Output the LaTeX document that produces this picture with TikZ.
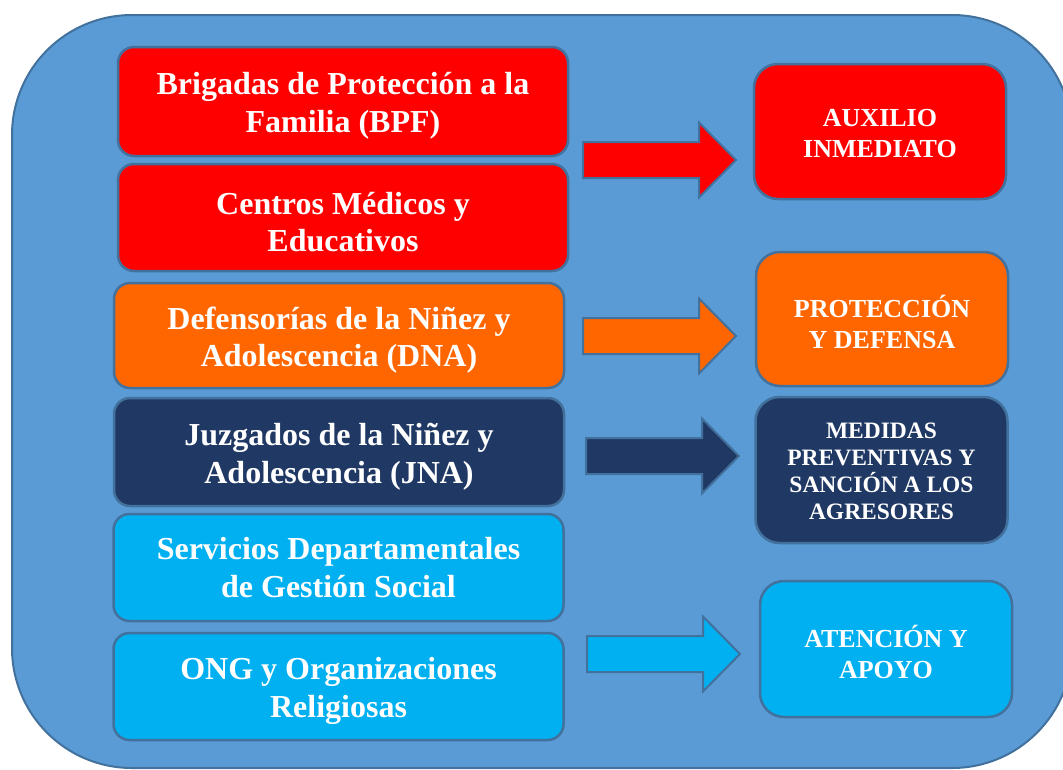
\documentclass[tikz,border=0pt]{standalone}
\usepackage{fontspec}
\setmainfont{Liberation Serif}
\definecolor{bgblue}{HTML}{5B9BD5}
\definecolor{edgec}{HTML}{41719C}
\definecolor{cred}{HTML}{FF0000}
\definecolor{corange}{HTML}{FF6600}
\definecolor{cnavy}{HTML}{203864}
\definecolor{ccyan}{HTML}{00B0F0}
\tikzset{
  lbox/.style={draw=edgec, line width=2.5pt, rounded corners=16pt,
    minimum width=450pt, inner sep=0pt},
  rbox/.style={draw=edgec, line width=2.5pt, rounded corners=24pt,
    minimum width=252pt, inner sep=0pt},
  ltxt/.style={text=white, align=center, inner sep=0pt, yshift=-4.5pt,
    font=\bfseries\fontsize{32}{37.5}\selectfont},
  rtxt/.style={text=white, align=center, inner sep=0pt, yshift=-2.5pt,
    font=\bfseries\fontsize{26}{31}\selectfont},
  stxt/.style={text=white, align=center, inner sep=0pt, yshift=-1pt,
    font=\bfseries\fontsize{23.5}{27}\selectfont},
  barrow/.style={draw=edgec, line width=2pt, line join=miter},
}
\begin{document}
\begin{tikzpicture}[x=1pt,y=-1pt]
\useasboundingbox (0,0) rectangle (1063,769);
% background panel
\filldraw[fill=bgblue, draw=edgec, line width=2pt, rounded corners=120pt]
  (12,15) rectangle (1072,768);

% left boxes
\node[lbox, fill=cred, minimum height=109pt,
  label={[ltxt]center:{Brigadas de Protección a la\\Familia (BPF)}}]
  (l1) at (343,101.5) {};
\node[lbox, fill=cred, minimum height=107pt,
  label={[ltxt]center:{Centros Médicos y\\Educativos}}]
  (l2) at (343,217.5) {};
\node[lbox, fill=corange, minimum height=105pt,
  label={[ltxt]center:{Defensorías de la Niñez y\\Adolescencia (DNA)}}]
  (l3) at (339,335.5) {};
\node[lbox, fill=cnavy, minimum height=108pt,
  label={[ltxt]center:{Juzgados de la Niñez y\\Adolescencia (JNA)}}]
  (l4) at (339,452) {};
\node[lbox, fill=ccyan, minimum height=107pt,
  label={[ltxt, yshift=4.5pt]center:{Servicios Departamentales\\de Gestión Social}}]
  (l5) at (338.5,567.5) {};
\node[lbox, fill=ccyan, minimum height=107pt,
  label={[ltxt]center:{ONG y Organizaciones\\Religiosas}}]
  (l6) at (338.5,686.5) {};

% right boxes
\node[rbox, fill=cred, minimum height=135pt,
  label={[rtxt]center:{AUXILIO\\INMEDIATO}}]
  (r1) at (880,131.5) {};
\node[rbox, fill=corange, minimum height=134pt,
  label={[rtxt]center:{PROTECCIÓN\\Y DEFENSA}}]
  (r2) at (882,319) {};
\node[rbox, fill=cnavy, minimum height=146pt,
  label={[stxt]center:{MEDIDAS\\PREVENTIVAS Y\\SANCIÓN A LOS\\AGRESORES}}]
  (r3) at (881.5,470) {};
\node[rbox, fill=ccyan, minimum height=136pt,
  label={[rtxt]center:{ATENCIÓN Y\\APOYO}}]
  (r4) at (886,649) {};

% block arrows
\coordinate (t1) at (583,160);
\coordinate (t2) at (583,336);
\coordinate (t3) at (586,456);
\coordinate (t4) at (587,654);
\foreach \t/\c in {t1/cred, t2/corange, t3/cnavy, t4/ccyan}{
  \filldraw[barrow, fill=\c] (\t) ++(0,-18) -- ++(116,0) -- ++(0,-19.5)
    -- ++(37,37.5) -- ++(-37,37.5) -- ++(0,-19.5) -- ++(-116,0) -- cycle;
}
\end{tikzpicture}
\end{document}
